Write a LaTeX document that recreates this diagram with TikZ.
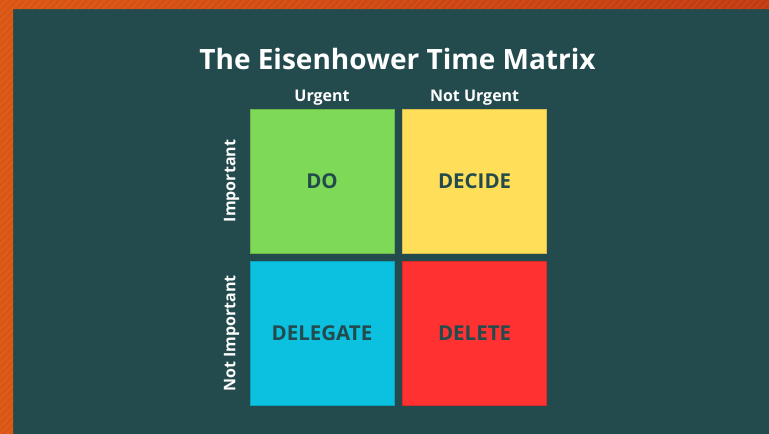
\documentclass[tikz,border=0pt]{standalone}
\usepackage{fontspec}
\setmainfont{Open Sans}
\usetikzlibrary{positioning}

\definecolor{bgteal}{HTML}{234B4E}
\definecolor{borderleft}{HTML}{DA5512}
\definecolor{borderright}{HTML}{C23A10}
\definecolor{doGreen}{HTML}{7ED957}
\definecolor{decideYellow}{HTML}{FFDE59}
\definecolor{delegateBlue}{HTML}{0CC0DF}
\definecolor{deleteRed}{HTML}{FF3131}

\begin{document}
\begin{tikzpicture}[x=1pt,y=-1pt,
    quad/.style={minimum size=144pt, inner sep=0pt, fill=#1, draw=#1!85!black,
      line width=0.6pt, text=bgteal, font=\bfseries\fontsize{20.5}{20.5}\selectfont},
    axis/.style={text=white, inner sep=0pt, font=\bfseries\fontsize{16}{16}\selectfont},
    heading/.style={text=white, inner sep=0pt, font=\bfseries\fontsize{28}{28}\selectfont}]
  \fill[bgteal] (0,0) rectangle (769,434);
  % striped orange frame on top and left
  \begin{scope}
    \clip (0,0) -- (769,0) -- (769,9) -- (13,9) -- (13,434) -- (0,434) -- cycle;
    \shade[left color=borderleft, right color=borderright] (0,0) rectangle (769,434);
    \foreach \s in {0,7,...,1210}
      \draw[white, opacity=0.05, line width=1.8pt] (\s,0) -- (\s-440,440);
  \end{scope}

  \node[heading, anchor=base] (title) at (397.5,69) {The Eisenhower Time Matrix};

  \node[quad=doGreen] (do) at (322,181) {DO};
  \node[quad=decideYellow, right=8pt of do] (decide) {DECIDE};
  \node[quad=delegateBlue, below=8pt of do] (delegate) {DELEGATE};
  \node[quad=deleteRed, right=8pt of delegate] (delete) {DELETE};

  \node[axis, anchor=base] (urgent) at ([yshift=7pt]do.north) {Urgent};
  \node[axis, anchor=base] (noturgent) at ([yshift=7pt]decide.north) {Not Urgent};
  \node[axis, rotate=90] (important) at ([xshift=-18pt]do.west) {Important};
  \node[axis, rotate=90] (notimportant) at ([xshift=-18pt]delegate.west) {Not Important};
\end{tikzpicture}
\end{document}
